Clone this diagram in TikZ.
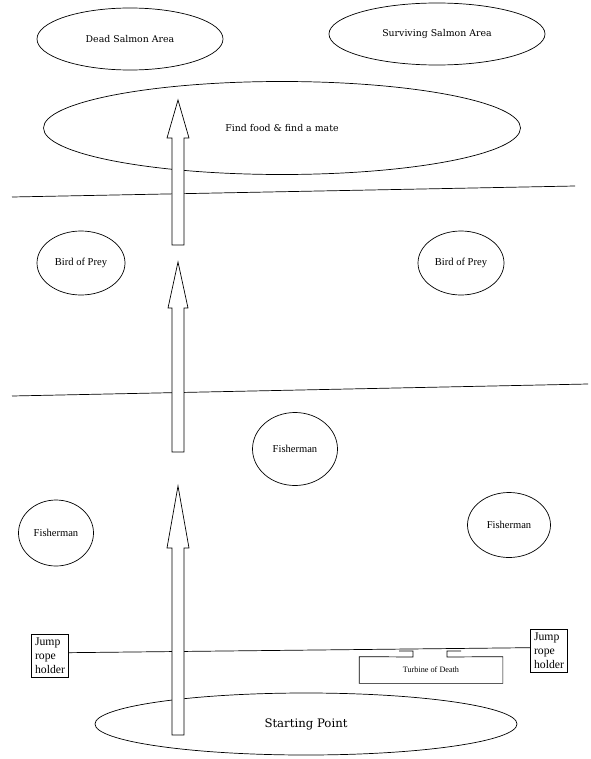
\documentclass[tikz,border=0pt]{standalone}
\usepackage{fontspec}
\setmainfont{Liberation Serif}
\newfontfamily\slabfont{DejaVu Serif}
\usetikzlibrary{shapes.geometric}

\begin{document}
\begin{tikzpicture}[x=0.03cm, y=-0.03cm, line width=0.6pt,
		area/.style={draw, ellipse, inner sep=0pt, font=\slabfont\fontsize{8}{10}\selectfont},
		foe/.style={draw, ellipse, inner sep=0pt, font=\fontsize{9}{11}\selectfont},
		holder/.style={draw, rectangle, align=left, inner sep=3pt, font=\fontsize{10}{12}\selectfont},
		salmon/.style={draw, fill=white}]
	\useasboundingbox (0,0) rectangle (591,759);

	% where the salmon end up
	\node[area, minimum width=5.58cm, minimum height=1.86cm] (dead) at (130,39) {Dead Salmon Area};
	\node[area, minimum width=6.48cm, minimum height=1.86cm] (alive) at (437,34) {Surviving Salmon Area};
	\node[area, minimum width=14.31cm, minimum height=2.79cm] (food) at (282,128) {Find food \& find a mate};

	% banks of the river
	\coordinate (bank1w) at (12,197);
	\coordinate (bank1e) at (575,186);
	\coordinate (bank2w) at (12,396);
	\coordinate (bank2e) at (588,384);
	\draw (bank1w) -- (bank1e);
	\draw (bank2w) -- (bank2e);

	% dangers
	\node[foe, minimum width=2.64cm, minimum height=1.92cm] (bird1) at (81,263) {Bird of Prey};
	\node[foe, minimum width=2.58cm, minimum height=1.92cm] (bird2) at (461,263) {Bird of Prey};
	\node[foe, minimum width=2.55cm, minimum height=2.19cm] (fish1) at (295,449) {Fisherman};
	\node[foe, minimum width=2.25cm, minimum height=1.98cm] (fish2) at (56,533) {Fisherman};
	\node[foe, minimum width=2.49cm, minimum height=1.95cm] (fish3) at (509,525) {Fisherman};

	% jump rope
	\node[holder] (holderw) at (50,656) {Jump\\rope\\holder};
	\node[holder] (holdere) at (549,651) {Jump\\rope\\holder};
	\draw (holderw.10) -- (holdere.170);

	% turbine, open at the top
	\node[rectangle, minimum width=4.29cm, minimum height=0.78cm, inner sep=0pt,
		font=\fontsize{7}{8}\selectfont] (turbine) at (431,670) {Turbine of Death};
	\draw (399,651) -- (413,651) -- (413,657) -- (turbine.north west) -- (turbine.south west)
		-- (turbine.south east) -- (turbine.north east) -- (447,657) -- (447,651) -- (461,651);

	\node[area, minimum width=12.66cm, minimum height=1.86cm, font=\slabfont\fontsize{10}{12}\selectfont] (start) at (306,724) {Starting Point};

	% the salmon swim upstream
	\draw[salmon] (172,735) -- (172,548) -- (167,548) -- (178,486) -- (189,548) -- (184,548) -- (184,735) -- cycle;
	\draw[salmon] (172,452) -- (172,308) -- (168,308) -- (178,262) -- (188,308) -- (184,308) -- (184,452) -- cycle;
	\draw[salmon] (172,245) -- (172,138) -- (167,138) -- (178,100) -- (189,138) -- (184,138) -- (184,245) -- cycle;
\end{tikzpicture}
\end{document}
